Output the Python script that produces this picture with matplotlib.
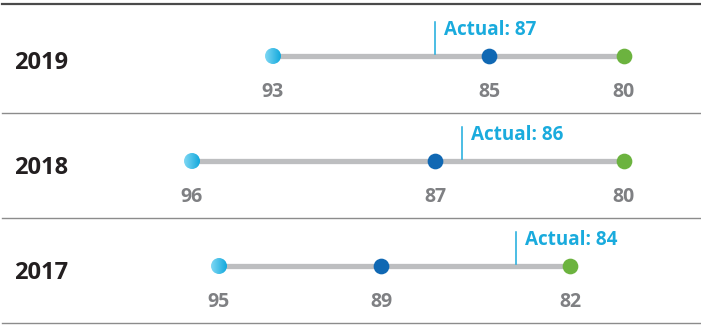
import matplotlib.pyplot as plt
import numpy as np
from matplotlib.colors import LinearSegmentedColormap
from matplotlib.patches import Ellipse

years = ['2019', '2018', '2017']
high = [93, 96, 95]      # left end (light blue)
mid = [85, 87, 89]       # dark blue dot
low = [80, 80, 82]       # right end (green)
actual = [87, 86, 84]

GRAY_LINE = '#BDBEC0'
CYAN = '#1AABDD'
DARK_BLUE = '#1068B3'
GREEN = '#6CB33F'
LABEL_GRAY = '#7F8083'

W, H = 701, 325
PX_PER_UNIT = 27.0
X80 = 624  # pixel of value 80

plt.rcParams['font.family'] = ['Open Sans', 'DejaVu Sans']

fig = plt.figure(figsize=(W / 100, H / 100), dpi=100)
ax = fig.add_axes([0, 0, 1, 1])
ax.set_xlim(80 + X80 / PX_PER_UNIT, 80 - (W - X80) / PX_PER_UNIT)
ax.set_ylim(H, 0)
ax.axis('off')
x_left = ax.get_xlim()[0]

row_h = 105
line_y0 = 56
cyan_cmap = LinearSegmentedColormap.from_list('cy', ['#7FD8F4', '#12A8DC'])
r_units = 8 / PX_PER_UNIT

# top rule and row separators
ax.axhline(4, xmin=0.003, xmax=1, color='#4A4A4A', lw=1.6)
for i in range(len(years)):
    ax.axhline(line_y0 + 57 + i * row_h, xmin=0.003, xmax=1, color='#8C8C8C', lw=1.0)

for i, yr in enumerate(years):
    y = line_y0 + i * row_h
    ax.plot([high[i], low[i]], [y, y], color=GRAY_LINE, lw=3.8,
            solid_capstyle='butt', zorder=1)

    # gradient-filled start dot
    grad = np.linspace(0, 1, 64).reshape(1, -1)
    img = ax.imshow(grad, cmap=cyan_cmap, aspect='auto',
                    extent=(high[i] + r_units, high[i] - r_units, y + 8, y - 8),
                    zorder=3)
    clip = Ellipse((high[i], y), 2 * r_units, 16, transform=ax.transData)
    img.set_clip_path(clip)

    ax.plot(mid[i], y, 'o', ms=11.3, color=DARK_BLUE, mec='none', zorder=3)
    ax.plot(low[i], y, 'o', ms=11.3, color=GREEN, mec='none', zorder=3)

    for v in (high[i], mid[i], low[i]):
        ax.text(v, y + 36, str(v), ha='center', va='center', fontsize=14,
                fontweight='bold', color=LABEL_GRAY)

    ax.plot([actual[i], actual[i]], [y - 2, y - 34], color=CYAN, lw=1.1, zorder=2)
    ax.annotate(f'Actual: {actual[i]}', (actual[i], y - 26),
                xytext=(9, 0), textcoords='offset pixels', ha='left',
                va='center', fontsize=13.6, fontweight='bold', color=CYAN)

    ax.text(x_left - 14 / PX_PER_UNIT, y + 7, yr, ha='left',
            va='center', fontsize=17, fontweight='bold', color='#231F20')

fig.savefig('out.png', dpi=100)
